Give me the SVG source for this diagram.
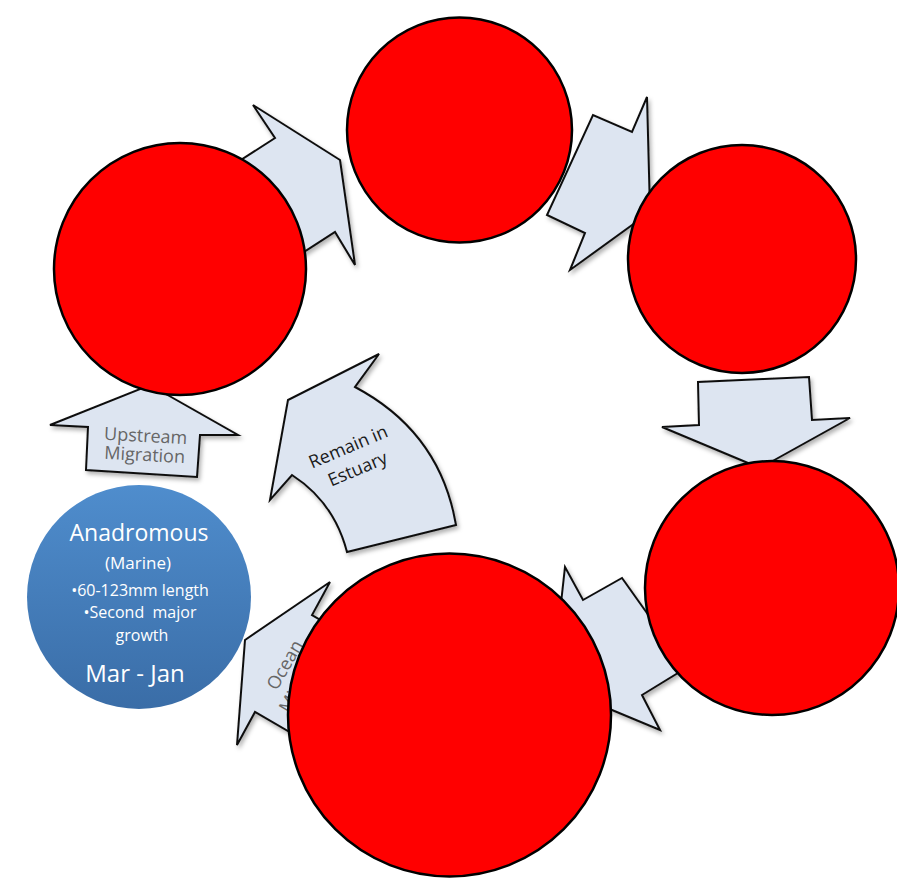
<svg xmlns="http://www.w3.org/2000/svg" width="897" height="886" viewBox="0 0 897 886">
<defs>
<filter id="sh" x="-20%" y="-20%" width="140%" height="140%">
<feDropShadow dx="2" dy="3" stdDeviation="2" flood-color="#000" flood-opacity="0.3"/>
</filter>
<linearGradient id="bg" x1="0" y1="0" x2="0" y2="1">
<stop offset="0" stop-color="#4f8dcd"/>
<stop offset="1" stop-color="#3a6da7"/>
</linearGradient>
<style>
.arr{fill:#dde5f1;stroke:#111;stroke-width:2;stroke-linejoin:miter;filter:url(#sh)}
.red{fill:#ff0000;stroke:#000;stroke-width:2.5}
.lbl{font-family:"Open Sans","Liberation Sans",sans-serif;font-size:18px;fill:#666;text-anchor:middle}
.dark{fill:#1a1a1a}
.wt{font-family:"Open Sans","Liberation Sans",sans-serif;fill:#fff;text-anchor:middle}
</style>
</defs>
<rect width="897" height="886" fill="#fff"/>
<g id="connectors">
<g id="arrow-upstream">
<polygon class="arr" points="150,385 238,435 200,435 197,477 86,470 88,427 50,425"/>
<g transform="rotate(3,145,450)">
<text class="lbl" x="145" y="442">Upstream</text>
<text class="lbl" x="145" y="461">Migration</text>
</g>
</g>
<g id="arrow-estuary">
<path class="arr" d="M379,354 L355,387 Q440,432 456,525 L347,552 Q334,502 292,475 L270,500 L288,400 Z"/>
<g transform="translate(353,458) rotate(-23)">
<text class="lbl dark" x="0" y="-6">Remain in</text>
<text class="lbl dark" x="0" y="18">Estuary</text>
</g>
</g>
<g id="arrow-ocean">
<polygon class="arr" points="245,640 330,582 312,615 381,655 324,752 255,712 237,745"/>
<g transform="translate(285,665) rotate(-60)">
<text class="lbl" x="0" y="6">Ocean</text>
<text class="lbl" x="0" y="28">Migration</text>
</g>
</g>
<g id="arrow-top-left">
<polygon class="arr" points="340,160 355,265 335,232 276,270 216,176 275,138 253,105"/>
</g>
<g id="arrow-top-right">
<polygon class="arr" points="650,212 570,270 585,233 547,215 593,115 632,132 647,97"/>
</g>
<g id="arrow-right">
<polygon class="arr" points="760,468 662,427 699,425 698,382 809,377 812,420 850,418"/>
</g>
<g id="arrow-lower-right">
<polygon class="arr" points="552,685 565,567 583,600 622,578 686,668 642,695 660,730"/>
</g>
</g>
<g id="node-top-left"><circle class="red" cx="180" cy="269" r="126"/></g>
<g id="node-top"><circle class="red" cx="459.5" cy="130" r="112.5"/></g>
<g id="node-right-upper"><circle class="red" cx="742" cy="259" r="114"/></g>
<g id="node-right-lower"><circle class="red" cx="772" cy="588" r="127"/></g>
<g id="node-bottom"><circle class="red" cx="449.5" cy="715" r="161.5"/></g>
<g id="node-anadromous">
<circle cx="139" cy="597" r="112" fill="url(#bg)"/>
<text class="wt" x="139" y="541" font-size="23">Anadromous</text>
<text class="wt" x="138" y="569" font-size="17">(Marine)</text>
<text class="wt" x="140" y="596" font-size="16">•60-123mm length</text>
<text class="wt" x="140" y="618" font-size="16" xml:space="preserve">•Second  major</text>
<text class="wt" x="142" y="641" font-size="16">growth</text>
<text class="wt" x="135" y="682" font-size="24">Mar - Jan</text>
</g>
</svg>
